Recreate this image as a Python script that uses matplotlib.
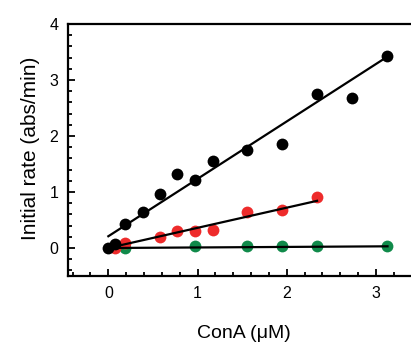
import matplotlib
matplotlib.use("Agg")
import matplotlib.pyplot as plt
import numpy as np

plt.rcParams['font.family'] = ['Liberation Sans', 'DejaVu Sans']

# black series
conc_k = [0.0, 0.08, 0.19, 0.385, 0.58, 0.77, 0.97, 1.17, 1.56, 1.95, 2.34, 2.73, 3.13]
rate_k = [0.0, 0.07, 0.43, 0.64, 0.96, 1.32, 1.22, 1.56, 1.75, 1.86, 2.75, 2.67, 3.42]
# red series
conc_r = [0.07, 0.19, 0.58, 0.77, 0.97, 1.17, 1.56, 1.95, 2.34]
rate_r = [0.0, 0.09, 0.20, 0.31, 0.31, 0.33, 0.65, 0.67, 0.91]
# green series
conc_g = [0.19, 0.97, 1.56, 1.95, 2.34, 3.13]
rate_g = [0.0, 0.03, 0.03, 0.03, 0.03, 0.03]

# fitted lines (slope, intercept, x range)
fit_k = (1.025, 0.21, 0.0, 3.13)
fit_r = (0.36, 0.0, 0.0, 2.34)
fit_g = (0.0096, 0.0, 0.0, 3.13)

col_k = '#000000'
col_r = '#ee2b2b'
col_g = '#108a4a'

fig = plt.figure(figsize=(4.11, 3.45), dpi=100)
ax = fig.add_axes([68.2/411, 0.2, (420.5-68.2)/411, 0.7304])

ax.plot(conc_g, rate_g, 'o', color=col_g, ms=8.5, mec='none', zorder=2)
ax.plot(conc_r, rate_r, 'o', color=col_r, ms=8.5, mec='none', zorder=3)
ax.plot(conc_k, rate_k, 'o', color=col_k, ms=8.5, mec='none', zorder=4)

for m, b, x0, x1 in (fit_g, fit_r, fit_k):
    xs = np.array([x0, x1])
    ax.plot(xs, m*xs + b, '-', color='black', lw=1.6, zorder=5)

ax.set_xlim(-0.45, 3.5)
ax.set_ylim(-0.5, 4)
ax.set_xticks([0, 1, 2, 3])
ax.set_yticks([0, 1, 2, 3, 4])
ax.set_xticks(np.arange(-0.4, 3.5, 0.2), minor=True)
ax.set_yticks(np.arange(-0.4, 4.0, 0.2), minor=True)
ax.tick_params(which='both', direction='in', width=1.3, top=False, right=False, labelsize=11.5)
ax.tick_params(which='major', length=5, pad=7)
ax.tick_params(which='minor', length=3)
for s in ax.spines.values():
    s.set_linewidth(1.6)

ax.set_xlabel('ConA (μM)', fontsize=14)
ax.set_ylabel('Initial rate (abs/min)', fontsize=15)
ax.xaxis.set_label_coords(0.5, -0.194)
ax.yaxis.set_label_coords(-0.08, 0.508)

fig.savefig('out.png', dpi=100)
